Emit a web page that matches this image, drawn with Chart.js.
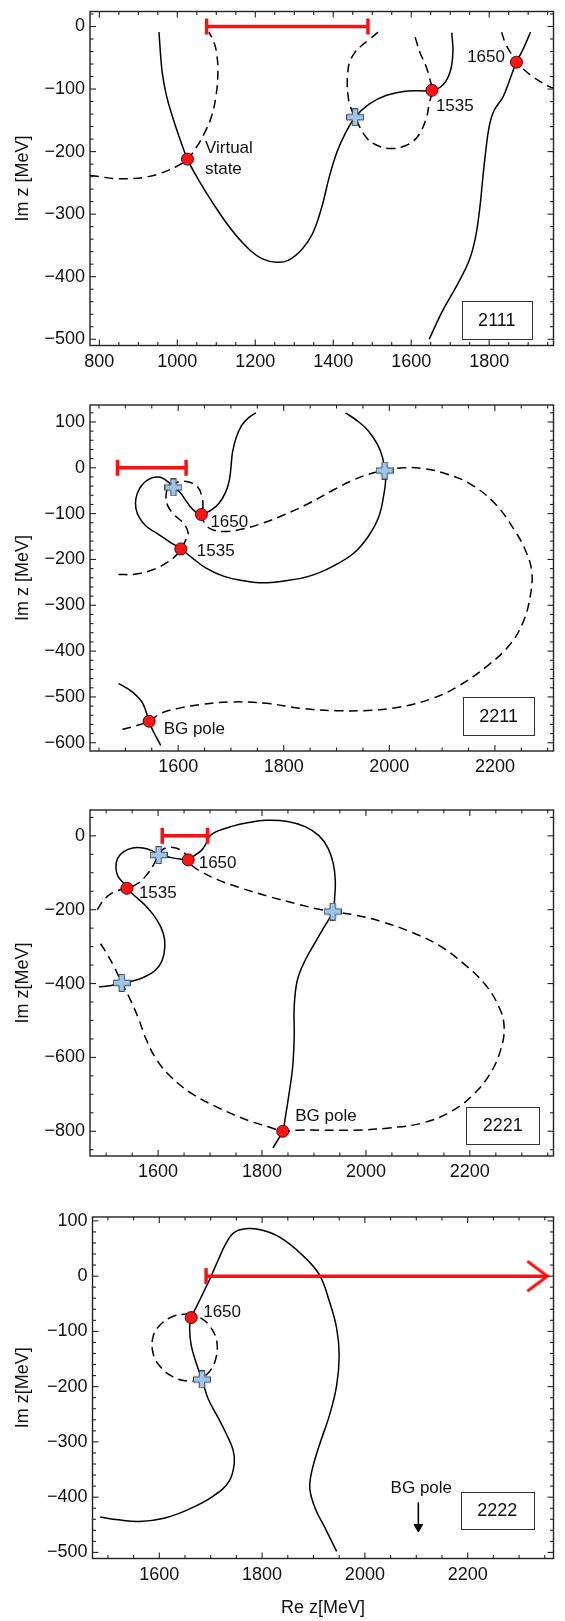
<!DOCTYPE html>
<html><head><meta charset="utf-8">
<script src="https://cdn.jsdelivr.net/npm/chart.js@4.4.1/dist/chart.umd.min.js"></script>
<style>
html,body{margin:0;padding:0;background:#fff;width:565px;height:1621px;overflow:hidden;}
canvas{position:absolute;left:0;}
</style></head><body>
<canvas id="c1"></canvas><canvas id="c2"></canvas><canvas id="c3"></canvas><canvas id="c4"></canvas>
<script>
// ================= DATA =================
const panelNames = ['2111', '2211', '2221', '2222'];

// ---- panel 2111 ----
const p1XTicks = [800, 1000, 1200, 1400, 1600, 1800];
const p1YTicks = [0, -100, -200, -300, -400, -500];
const p1SolidA = [[953,-9],[957,-45],[962,-77],[972,-110],[985,-139],[1004,-175],[1026,-212],[1057,-248],[1093,-284],[1139,-325],[1184,-356],[1220,-372],[1255,-377],[1284,-374],[1320,-356],[1347,-331],[1370,-290],[1390,-240],[1410,-200],[1430,-172],[1456,-145],[1492,-124],[1537,-110],[1592,-103],[1653,-102],[1682,-93],[1700,-72],[1707,-41],[1704,-10]];
const p1SolidB = [[1646,-500],[1680,-455],[1718,-413],[1748,-375],[1764,-340],[1776,-290],[1784,-240],[1791,-200],[1800,-160],[1812,-135],[1836,-112],[1854,-83],[1870,-57],[1888,-35],[1906,-9]];
const p1DashC = [[776,-238],[800,-240],[840,-243],[885,-243],[925,-240],[960,-234],[1000,-223],[1026,-212],[1050,-192],[1070,-170],[1087,-145],[1099,-112],[1104,-75],[1102,-48],[1094,-25],[1081,-9]];
const p1DashD = [[1515,-9],[1492,-21],[1470,-32],[1456,-41],[1442,-57],[1437,-75],[1436,-93],[1438,-110],[1442,-124],[1456,-145],[1483,-176],[1509,-189],[1546,-195],[1583,-191],[1614,-178],[1637,-150],[1646,-124],[1653,-102],[1646,-80],[1637,-62],[1622,-41],[1612,-21],[1606,-9]];
const p1DashE = [[1832,-9],[1841,-26],[1854,-41],[1870,-57],[1891,-70],[1918,-83],[1954,-96],[1975,-100]];
const p1Poles = [[1026,-212],[1653,-102],[1870,-57]];
const p1PoleNames = ['Virtual\nstate', '1535', '1650'];
const p1Zeros = [[1456,-145]];
const p1Cut = [1075, 1489];

// ---- panel 2211 ----
const p2XTicks = [1600, 1800, 2000, 2200];
const p2YTicks = [100, 0, -100, -200, -300, -400, -500, -600];
const p2SolidF = [[1747,120],[1733,109],[1720,92],[1710,66],[1703,34],[1700,1],[1697,-27],[1690,-53],[1677,-78],[1663,-92],[1653,-98],[1644,-102],[1633,-96],[1623,-85],[1613,-69],[1603,-53],[1591,-43],[1583,-33],[1573,-24],[1563,-20],[1550,-22],[1537,-31],[1527,-45],[1520,-67],[1520,-89],[1527,-110],[1540,-128],[1560,-143],[1583,-161],[1605,-177],[1627,-197],[1653,-219],[1687,-237],[1727,-247],[1760,-251],[1800,-247],[1847,-237],[1893,-215],[1933,-186],[1960,-150],[1980,-107],[1990,-56],[1993,-27],[1991,-6],[1987,23],[1977,52],[1960,81],[1940,102],[1917,120]];
const p2SolidG = [[1487,-471],[1500,-479],[1513,-489],[1525,-502],[1533,-514],[1540,-535],[1545,-553],[1550,-568],[1556,-582],[1563,-597],[1567,-606]];
const p2DashH = [[1487,-233],[1520,-232],[1553,-222],[1580,-206],[1597,-190],[1605,-177],[1613,-161],[1619,-143],[1610,-121],[1593,-103],[1580,-82],[1577,-60],[1583,-40],[1600,-31],[1620,-31],[1637,-42],[1645,-63],[1647,-85],[1644,-102],[1650,-121],[1663,-134],[1687,-139],[1720,-134],[1760,-121],[1800,-103],[1847,-78],[1893,-49],[1933,-26],[1967,-12],[1991,-6],[2027,0],[2067,-2],[2107,-13],[2153,-35],[2200,-78],[2237,-136],[2260,-186],[2270,-229],[2267,-280],[2253,-338],[2227,-388],[2187,-431],[2133,-475],[2080,-504],[2020,-522],[1967,-529],[1900,-530],[1833,-525],[1767,-514],[1700,-511],[1640,-517],[1600,-525],[1567,-536],[1545,-553],[1520,-563],[1490,-572]];
const p2Poles = [[1644,-102],[1605,-177],[1545,-553]];
const p2PoleNames = ['1650', '1535', 'BG pole'];
const p2Zeros = [[1591,-43],[1991,-6]];
const p2Cut = [1485, 1615];

// ---- panel 2221 ----
const p3XTicks = [1600, 1800, 2000, 2200];
const p3YTicks = [0, -200, -400, -600, -800];
const p3SolidI = [[1821,-845],[1832,-820],[1840,-800],[1845,-762],[1852,-699],[1859,-626],[1862,-545],[1862,-463],[1868,-391],[1883,-337],[1903,-287],[1920,-246],[1936,-205],[1940,-165],[1941,-119],[1937,-74],[1927,-33],[1910,0],[1883,25],[1849,39],[1808,42],[1774,36],[1740,25],[1713,12],[1700,0],[1693,-20],[1683,-40],[1669,-54],[1658,-65],[1642,-63],[1625,-59],[1612,-54],[1601,-52],[1588,-40],[1571,-33],[1551,-33],[1534,-43],[1522,-61],[1519,-88],[1523,-110],[1534,-129],[1540,-142],[1557,-165],[1578,-192],[1598,-228],[1610,-264],[1613,-300],[1608,-337],[1595,-364],[1571,-384],[1551,-393],[1530,-398],[1510,-405],[1486,-409]];
const p3DashJ = [[1483,-200],[1493,-178],[1506,-160],[1523,-148],[1540,-142],[1561,-129],[1578,-106],[1591,-79],[1599,-56],[1601,-52],[1608,-38],[1618,-32],[1632,-32],[1645,-40],[1654,-52],[1658,-65],[1666,-81],[1683,-97],[1713,-118],[1761,-142],[1815,-165],[1869,-185],[1910,-199],[1936,-205],[1978,-214],[2032,-233],[2086,-260],[2140,-296],[2188,-346],[2228,-400],[2256,-463],[2266,-518],[2259,-581],[2239,-644],[2208,-699],[2167,-744],[2113,-776],[2045,-791],[1978,-797],[1910,-797],[1869,-797],[1840,-800],[1815,-789],[1774,-771],[1720,-739],[1666,-699],[1625,-653],[1598,-608],[1578,-554],[1561,-490],[1544,-436],[1530,-398],[1517,-359],[1503,-323],[1489,-291],[1485,-282]];
const p3Poles = [[1658,-65],[1540,-142],[1840,-800]];
const p3PoleNames = ['1650', '1535', 'BG pole'];
const p3Zeros = [[1601,-52],[1936,-205],[1530,-398]];
const p3Cut = [1608, 1695];

// ---- panel 2222 ----
const p4XTicks = [1600, 1800, 2000, 2200];
const p4YTicks = [100, 0, -100, -200, -300, -400, -500];
const p4SolidK = [[1485,-436],[1520,-441],[1561,-444],[1609,-438],[1657,-422],[1705,-398],[1736,-371],[1746,-337],[1743,-313],[1729,-283],[1712,-252],[1695,-222],[1683,-187],[1671,-155],[1662,-125],[1659,-94],[1662,-75],[1671,-58],[1684,-33],[1695,-12],[1705,9],[1715,30],[1729,58],[1746,79],[1773,86],[1801,83],[1835,70],[1876,40],[1911,3],[1931,-46],[1945,-94],[1950,-143],[1945,-198],[1931,-252],[1911,-307],[1896,-356],[1893,-386],[1904,-422],[1921,-453],[1945,-498]];
const p4DashL = [[1653,-68],[1681,-76],[1701,-94],[1712,-119],[1710,-149],[1698,-172],[1677,-187],[1653,-190],[1626,-182],[1602,-164],[1588,-140],[1588,-109],[1602,-88],[1626,-73],[1653,-68]];
const p4Poles = [[1662,-75]];
const p4PoleNames = ['1650'];
const p4Zeros = [[1683,-187]];
const p4Cut = [1691, 2355];
const p4BgArrow = [[2104,-409],[2104,-454]];
const p4BgName = 'BG pole';

// ================= RENDERING =================
const FONT = '"Liberation Sans", Arial, Helvetica, sans-serif';
const TICK_SIZE = 18, NOTE_SIZE = 17, TITLE_SIZE = 18;
Chart.defaults.font.family = FONT;
Chart.defaults.color = '#111';
const xy = a => a.map(p => ({x: p[0], y: p[1]}));
const fmt = v => v < 0 ? '\u2212' + (-v) : String(v);

function makeCross() {
  const s = 18, a = 5.5, o = (s - a) / 2;
  const c = document.createElement('canvas'); c.width = s; c.height = s;
  const g = c.getContext('2d');
  g.beginPath();
  const pts = [[o,0.5],[o+a,0.5],[o+a,o],[s-0.5,o],[s-0.5,o+a],[o+a,o+a],[o+a,s-0.5],[o,s-0.5],[o,o+a],[0.5,o+a],[0.5,o],[o,o]];
  pts.forEach((p,i) => i ? g.lineTo(p[0],p[1]) : g.moveTo(p[0],p[1]));
  g.closePath();
  g.fillStyle = '#9ec6ec'; g.fill();
  g.strokeStyle = '#2a3440'; g.lineWidth = 0.9; g.stroke();
  return c;
}
function makeChevron() {
  const L = 20, H = 15;
  const c = document.createElement('canvas'); c.width = 2*L + 4; c.height = 2*H + 4;
  const g = c.getContext('2d');
  const cx = L + 2, cy = H + 2;
  g.strokeStyle = '#ff1010'; g.lineWidth = 3; g.lineCap = 'butt';
  g.beginPath(); g.moveTo(cx - L, cy - H); g.lineTo(cx, cy); g.lineTo(cx - L, cy + H); g.stroke();
  return c;
}
const crossImg = makeCross();
const chevronImg = makeChevron();

const framePlugin = {
  id: 'frame',
  afterDatasetsDraw(chart) {
    const f = chart.options.plugins.frame;
    const {ctx, chartArea: a, scales: {x, y}} = chart;
    ctx.save();
    ctx.strokeStyle = '#222';
    ctx.lineWidth = 1.4;
    ctx.strokeRect(a.left, a.top, a.right - a.left, a.bottom - a.top);
    ctx.lineWidth = 1.1;
    const seg = (x1,y1,x2,y2) => { ctx.beginPath(); ctx.moveTo(x1,y1); ctx.lineTo(x2,y2); ctx.stroke(); };
    const near = (v, m) => Math.abs(v/m - Math.round(v/m)) < 1e-6;
    for (let v = Math.ceil(x.min / f.xMinor) * f.xMinor; v <= x.max; v += f.xMinor) {
      const p = x.getPixelForValue(v); if (p <= a.left + 1 || p >= a.right - 1) continue;
      const len = near(v, f.xMajor) ? 6 : 3.5;
      seg(p, a.bottom, p, a.bottom - len); seg(p, a.top, p, a.top + len);
    }
    for (let v = Math.ceil(y.min / f.yMinor) * f.yMinor; v <= y.max; v += f.yMinor) {
      const p = y.getPixelForValue(v); if (p <= a.top + 1 || p >= a.bottom - 1) continue;
      const len = near(v, f.yMajor) ? 6 : 3.5;
      seg(a.left, p, a.left + len, p); seg(a.right, p, a.right - len, p);
    }
    ctx.restore();
  }
};

const notesPlugin = {
  id: 'notes',
  afterDraw(chart) {
    const n = chart.options.plugins.notes;
    const {ctx, chartArea: a, scales: {x, y}} = chart;
    ctx.save();
    ctx.fillStyle = '#111';
    ctx.textBaseline = 'middle';
    ctx.font = NOTE_SIZE + 'px ' + FONT;
    n.labels.forEach(l => {
      const px = x.getPixelForValue(l.at[0]) + l.dx;
      const py = y.getPixelForValue(l.at[1]) + l.dy;
      ctx.textAlign = l.align || 'left';
      l.text.split('\n').forEach((t, i) => ctx.fillText(t, px, py + i * 20.5));
    });
    const b = n.box;
    const bx = a.right - b.right - b.w, by = a.bottom - b.bottom - b.h;
    ctx.strokeStyle = '#333'; ctx.lineWidth = 1;
    ctx.strokeRect(Math.round(bx) + 0.5, Math.round(by) + 0.5, Math.round(b.w), Math.round(b.h));
    ctx.font = TITLE_SIZE + 'px ' + FONT;
    ctx.textAlign = 'center';
    ctx.fillText(n.name, bx + b.w / 2, by + b.h / 2 + 1);
    ctx.restore();
  }
};

function makePanel(id, cfg) {
  const cv = document.getElementById(id);
  cv.width = 565; cv.height = cfg.canvasH; cv.style.top = cfg.canvasTop + 'px';
  cv.style.width = '565px'; cv.style.height = cfg.canvasH + 'px';
  const ds = [];
  ds.push({data: xy(cfg.poles), pointRadius: 6, pointBackgroundColor: '#ff1414', pointBorderColor: '#5a0000', pointBorderWidth: 1, order: 0, clip: false});
  ds.push({data: xy(cfg.zeros), pointStyle: crossImg, pointRadius: 9, order: 1, clip: false});
  ds.push({data: cfg.cut.map(v => ({x: v, y: 0})), showLine: true, borderColor: '#ff1010', borderWidth: 3.5,
    pointStyle: cfg.arrow ? ['line', chevronImg] : 'line', pointRotation: cfg.arrow ? [90, 0] : 90, pointRadius: 8,
    pointBorderColor: '#ff1010', pointBorderWidth: 3.5, order: 2, clip: false});
  if (cfg.bgArrow) {
    ds.push({data: xy(cfg.bgArrow), showLine: true, borderColor: '#000', borderWidth: 1.6,
      pointStyle: 'triangle', pointRotation: 180, pointRadius: [0, 5], pointBackgroundColor: '#000',
      pointBorderColor: '#000', pointBorderWidth: 1, order: 3});
  }
  cfg.solid.forEach(s => ds.push({data: xy(s), showLine: true, borderColor: '#000', borderWidth: 1.5,
    pointRadius: 0, tension: 0.4, clip: 0, order: 5}));
  cfg.dashed.forEach(s => ds.push({data: xy(s), showLine: true, borderColor: '#000', borderWidth: 1.5,
    borderDash: [9, 5.5], pointRadius: 0, tension: 0.4, clip: 0, order: 5}));

  const zeroPad = s => { s.paddingLeft = 0; s.paddingRight = 0; s.paddingTop = 0; s.paddingBottom = 0; };
  return new Chart(cv, {
    type: 'scatter',
    data: {datasets: ds},
    plugins: [framePlugin, notesPlugin],
    options: {
      responsive: false, animation: false, events: [],
      layout: {padding: {top: cfg.areaTop - cfg.canvasTop, right: 565 - cfg.areaRight, left: 0, bottom: 0}},
      plugins: {
        legend: {display: false}, tooltip: {enabled: false},
        frame: {xMinor: 50, xMajor: 200, yMinor: cfg.yMinor, yMajor: cfg.yMajor},
        notes: {labels: cfg.labels, box: cfg.box, name: cfg.name}
      },
      scales: {
        x: {type: 'linear', min: cfg.xRange[0], max: cfg.xRange[1],
          afterBuildTicks: s => { s.ticks = cfg.xTicks.map(v => ({value: v})); },
          afterFit: s => { s.height = cfg.canvasTop + cfg.canvasH - cfg.areaBottom; zeroPad(s); },
          grid: {display: false, drawTicks: false}, border: {display: false},
          ticks: {font: {size: TICK_SIZE}, color: '#111', padding: 5.5, maxRotation: 0, autoSkip: false, callback: fmt},
          title: cfg.xTitle ? {display: true, text: cfg.xTitle, font: {size: TITLE_SIZE}, color: '#111', padding: {top: 0, bottom: 2}} : {display: false}
        },
        y: {type: 'linear', min: cfg.yRange[0], max: cfg.yRange[1],
          afterBuildTicks: s => { s.ticks = cfg.yTicks.map(v => ({value: v})); },
          afterFit: s => { s.width = cfg.areaLeft; zeroPad(s); },
          grid: {display: false, drawTicks: false}, border: {display: false},
          ticks: {font: {size: TICK_SIZE}, color: '#111', padding: 5, autoSkip: false, callback: fmt},
          title: {display: true, text: cfg.yTitle, font: {size: TITLE_SIZE}, color: '#111', padding: {top: 12, bottom: 0}}
        }
      }
    }
  });
}

makePanel('c1', {
  name: panelNames[0], canvasTop: 0, canvasH: 372, areaTop: 1, areaBottom: 345.5, areaLeft: 90, areaRight: 563,
  xRange: [776, 1965], yRange: [-510, 24], xTicks: p1XTicks, yTicks: p1YTicks, yMinor: 20, yMajor: 100,
  solid: [p1SolidA, p1SolidB], dashed: [p1DashC, p1DashD, p1DashE],
  poles: p1Poles, zeros: p1Zeros, cut: p1Cut, yTitle: 'Im z [MeV]',
  labels: [
    {at: p1Poles[0], text: p1PoleNames[0], dx: 17.5, dy: -10.5},
    {at: p1Poles[1], text: p1PoleNames[1], dx: 4, dy: 16},
    {at: p1Poles[2], text: p1PoleNames[2], dx: -11.5, dy: -5, align: 'right'}
  ],
  box: {right: 21.7, bottom: 7.2, w: 70, h: 37.5}
});
makePanel('c2', {
  name: panelNames[1], canvasTop: 385, canvasH: 390, areaTop: 405, areaBottom: 751, areaLeft: 90, areaRight: 563,
  xRange: [1433, 2311], yRange: [-618, 137], xTicks: p2XTicks, yTicks: p2YTicks, yMinor: 20, yMajor: 100,
  solid: [p2SolidF, p2SolidG], dashed: [p2DashH],
  poles: p2Poles, zeros: p2Zeros, cut: p2Cut, yTitle: 'Im z [MeV]',
  labels: [
    {at: p2Poles[0], text: p2PoleNames[0], dx: 9, dy: 8},
    {at: p2Poles[1], text: p2PoleNames[1], dx: 16, dy: 2},
    {at: p2Poles[2], text: p2PoleNames[2], dx: 14.5, dy: 8}
  ],
  box: {right: 19.6, bottom: 16, w: 70.6, h: 37.7}
});
makePanel('c3', {
  name: panelNames[2], canvasTop: 790, canvasH: 390, areaTop: 810, areaBottom: 1156, areaLeft: 90, areaRight: 563,
  xRange: [1469, 2361], yRange: [-867, 70], xTicks: p3XTicks, yTicks: p3YTicks, yMinor: 50, yMajor: 200,
  solid: [p3SolidI], dashed: [p3DashJ],
  poles: p3Poles, zeros: p3Zeros, cut: p3Cut, yTitle: 'Im z[MeV]',
  labels: [
    {at: p3Poles[0], text: p3PoleNames[0], dx: 10.5, dy: 3},
    {at: p3Poles[1], text: p3PoleNames[1], dx: 12, dy: 5},
    {at: p3Poles[2], text: p3PoleNames[2], dx: 12.5, dy: -15}
  ],
  box: {right: 14.2, bottom: 12, w: 73, h: 37.3}
});
makePanel('c4', {
  name: panelNames[3], canvasTop: 1195, canvasH: 426, areaTop: 1217, areaBottom: 1558.5, areaLeft: 92.5, areaRight: 564,
  xRange: [1470, 2367], yRange: [-511, 107], xTicks: p4XTicks, yTicks: p4YTicks, yMinor: 20, yMajor: 100,
  solid: [p4SolidK], dashed: [p4DashL],
  poles: p4Poles, zeros: p4Zeros, cut: p4Cut, arrow: true, bgArrow: p4BgArrow,
  yTitle: 'Im z[MeV]', xTitle: 'Re z[MeV]',
  labels: [
    {at: p4Poles[0], text: p4PoleNames[0], dx: 12, dy: -5},
    {at: p4BgArrow[0], text: p4BgName, dx: 3, dy: -14, align: 'center'}
  ],
  box: {right: 20, bottom: 29.5, w: 72.7, h: 37.3}
});
</script>
</body></html>
